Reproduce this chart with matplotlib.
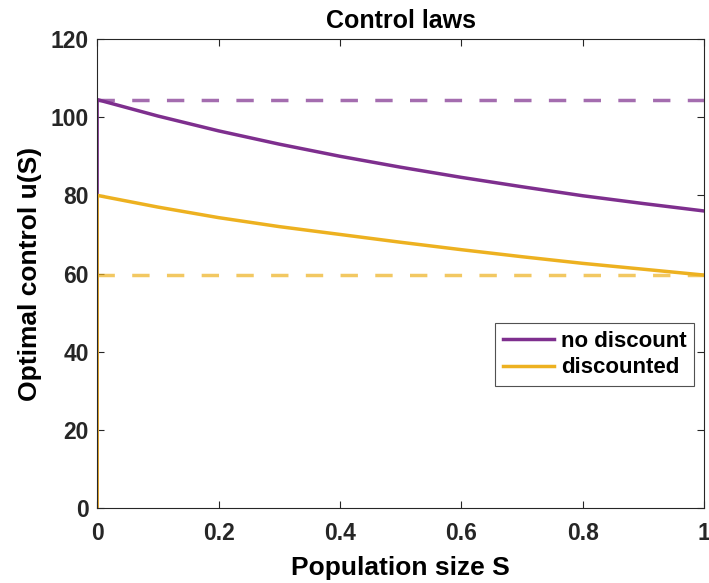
import matplotlib.pyplot as plt
import numpy as np

plt.rcParams['font.family'] = ['Liberation Sans', 'DejaVu Sans']
plt.rcParams['font.weight'] = 'bold'

# population size values and the two control laws
s = [0.0, 0.1, 0.2, 0.3, 0.4, 0.5, 0.6, 0.7, 0.8, 0.9, 1.0]
u_nodisc = [104.5, 100.3, 96.5, 93.1, 90.0, 87.2, 84.6, 82.2, 79.9, 77.9, 76.0]
u_disc = [80.0, 77.0, 74.3, 72.0, 70.0, 68.0, 66.1, 64.3, 62.6, 61.1, 59.6]
level_nodisc = 104.5
level_disc = 59.6

purple = '#7E2F8E'
yellow = '#EDB120'

fig = plt.figure(figsize=(7.09, 5.83), dpi=100)
ax = fig.add_axes([0.137, 0.1286, 0.856, 0.8045])

# lines start at zero at S=0
xs = np.concatenate([[0.0], s])
ax.plot(xs, np.concatenate([[0.0], u_nodisc]), color=purple, lw=2.5, label='no discount')
ax.plot(xs, np.concatenate([[0.0], u_disc]), color=yellow, lw=2.5, label='discounted')
ax.axhline(level_nodisc, color=purple, lw=2.5, alpha=0.7, dashes=(5, 5))
ax.axhline(level_disc, color=yellow, lw=2.5, alpha=0.7, dashes=(5, 5))

ax.set_xlim(0, 1)
ax.set_ylim(0, 120)
ax.set_xticks([0, 0.2, 0.4, 0.6, 0.8, 1])
ax.set_xticklabels(['0', '0.2', '0.4', '0.6', '0.8', '1'])
ax.set_yticks([0, 20, 40, 60, 80, 100, 120])
ax.tick_params(direction='in', top=True, right=True, length=5, width=0.8,
               labelsize=16.5, colors='#262626')
ax.tick_params(axis='x', pad=10)
ax.tick_params(axis='y', pad=6)
for sp in ax.spines.values():
    sp.set_color('#262626')
    sp.set_linewidth(0.8)

ax.set_title('Control laws', fontsize=18, fontweight='bold', pad=8)
ax.set_xlabel('Population size S', fontsize=19, fontweight='bold', labelpad=8)
ax.set_ylabel('Optimal control u(S)', fontsize=19, fontweight='bold', labelpad=6)

leg = ax.legend(loc='lower right', bbox_to_anchor=(0.984, 0.26), fontsize=16,
                frameon=True, fancybox=False, edgecolor='#262626',
                handlelength=2.3, handletextpad=0.3, borderpad=0.35,
                labelspacing=0.25, borderaxespad=0)
leg.get_frame().set_linewidth(0.8)

fig.savefig('out.png', dpi=100)
